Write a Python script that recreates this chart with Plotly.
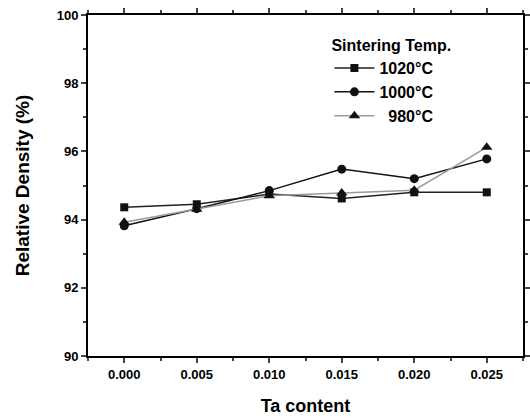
import plotly.graph_objects as go

ta = [0.000, 0.005, 0.010, 0.015, 0.020, 0.025]
d1020 = [94.36, 94.45, 94.75, 94.62, 94.80, 94.80]
d1000 = [93.82, 94.32, 94.85, 95.48, 95.20, 95.78]
d980 = [93.92, 94.30, 94.70, 94.78, 94.86, 96.12]

series = [
    ("<b>1020°C</b>", d1020, "square", "#222222", 8),
    ("<b>1000°C</b>", d1000, "circle", "#111111", 9),
    ("<b>  980°C</b>", d980, "triangle-up", "#9a9a9a", 10),
]

fig = go.Figure()
for name, ys, sym, col, sz in series:
    fig.add_trace(go.Scatter(x=ta, y=ys, name=name, mode="lines+markers",
                             line=dict(color=col, width=1.5),
                             marker=dict(symbol=sym, size=sz, color="#111111")))

font_b = dict(family="Liberation Sans", size=13, color="black")
fig.update_layout(
    width=530, height=418,
    margin=dict(l=88, r=7, t=15, b=62),
    paper_bgcolor="white", plot_bgcolor="white",
    font=dict(family="Liberation Sans", color="black"),
    showlegend=True,
    legend=dict(x=0.555, y=0.955, xanchor="left", yanchor="top",
                title=dict(text="<b>Sintering Temp.</b>", font=dict(size=16)),
                font=dict(size=16, family="Liberation Sans"),
                bgcolor="rgba(0,0,0,0)", tracegroupgap=0, itemwidth=40),
)
fig.update_xaxes(range=[-0.0025, 0.0275], tickvals=ta,
                 ticktext=["<b>%.3f</b>" % v for v in ta],
                 ticks="outside", ticklen=5, tickwidth=1.5,
                 minor=dict(dtick=0.0025, tick0=0.0025, ticks="outside", ticklen=3),
                 showline=True, linecolor="black", linewidth=2, mirror="ticks",
                 showgrid=False, zeroline=False, tickfont=font_b, automargin=False,
                 title=dict(text="<b>Ta content</b>", font=dict(size=18), standoff=19))
fig.update_yaxes(range=[90, 100], tickvals=[90, 92, 94, 96, 98, 100],
                 ticktext=["<b>%d</b>" % v for v in [90, 92, 94, 96, 98, 100]],
                 ticks="outside", ticklen=5, tickwidth=1.5,
                 minor=dict(dtick=1, ticks="outside", ticklen=3),
                 showline=True, linecolor="black", linewidth=2, mirror="ticks",
                 showgrid=False, zeroline=False, tickfont=font_b, automargin=False,
                 title=dict(text="<b>Relative Density (%)</b>", font=dict(size=19), standoff=22))

# drop the page margin so the figure sits at the window's top-left corner
fig.write_html("out.html", config={"displayModeBar": False},
               post_script="document.body.style.margin='0';document.body.style.overflow='hidden';")
